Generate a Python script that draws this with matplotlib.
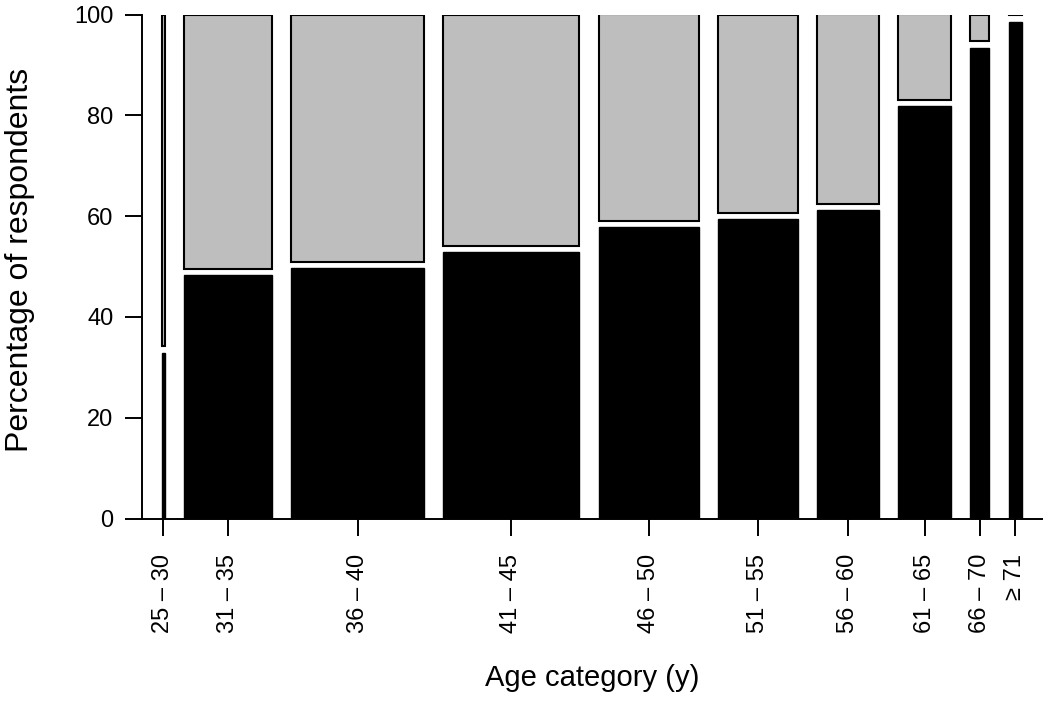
import numpy as np
import matplotlib
matplotlib.use("Agg")
import matplotlib.pyplot as plt

plt.rcParams["font.family"] = ["Liberation Sans", "DejaVu Sans"]

# age groups, respondents per group (bar widths) and % in the black part
categories = ["25 – 30", "31 – 35", "36 – 40", "41 – 45", "46 – 50",
              "51 – 55", "56 – 60", "61 – 65", "66 – 70", "≥ 71"]
counts = [3, 78, 118, 121, 89, 71, 55, 47, 17, 12]
pct_black = [33.3, 48.9, 50.3, 53.5, 58.6, 60.2, 61.9, 82.8, 94.6, 99.8]

GAP_X = 17.2      # horizontal space between bars (count units)
MARGIN_X = 17.6   # space before first / after last bar
GAP_Y = 1.25      # vertical space between black and grey part

W, H = 1050, 706
fig = plt.figure(figsize=(W / 100, H / 100), dpi=100)
ax = fig.add_axes([142 / W, (H - 518.5) / H, 900 / W, 504 / H])

counts = np.array(counts, dtype=float)
pct = np.array(pct_black)
left = MARGIN_X + np.concatenate([[0], np.cumsum(counts[:-1] + GAP_X)])
centers = left + counts / 2

scale = (100 - GAP_Y) / 100
black_top = pct * scale
grey_bottom = black_top + GAP_Y

ax.bar(left, black_top, width=counts, align="edge", color="black",
       edgecolor="black", linewidth=1.0)
ax.bar(left, 100 - grey_bottom, width=counts, bottom=grey_bottom,
       align="edge", color="#bebebe", edgecolor="black", linewidth=1.5)

total = left[-1] + counts[-1] + MARGIN_X
ax.set_xlim(0, total)
ax.set_ylim(0, 100)

for s in ["top", "right"]:
    ax.spines[s].set_visible(False)
for s in ["left", "bottom"]:
    ax.spines[s].set_linewidth(1.4)

ax.set_yticks([0, 20, 40, 60, 80, 100])
ax.set_xticks(centers)
ax.set_xticklabels(categories, rotation=90)
ax.tick_params(axis="y", length=12.5, width=1.4, pad=8, labelsize=17)
ax.tick_params(axis="x", length=12.5, width=1.4, pad=13, labelsize=17)

ax.set_ylabel("Percentage of respondents", fontsize=23)
ax.yaxis.set_label_coords(-0.119, 0.513)
ax.set_xlabel("Age category (y)", fontsize=21, labelpad=22)

fig.savefig("out.png", dpi=100)
